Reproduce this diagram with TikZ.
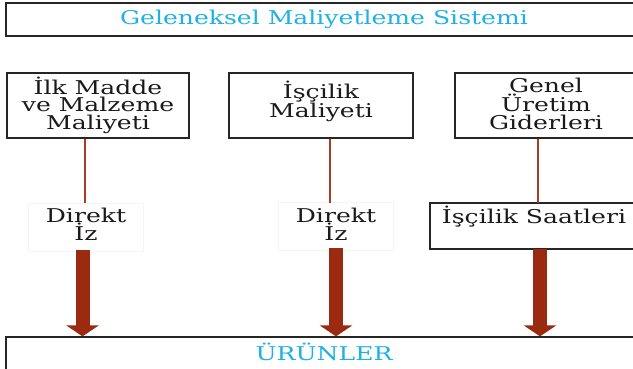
\documentclass[tikz,border=0pt]{standalone}
\usepackage{fontspec}
\setmainfont[FakeStretch=1.32]{DejaVu Serif}
\usetikzlibrary{arrows.meta}
\definecolor{cyantxt}{HTML}{1EB1E6}
\definecolor{arrowc}{HTML}{9A2B10}
\definecolor{linec}{HTML}{A83C24}
\definecolor{txtc}{HTML}{1A1A1A}
\tikzset{
  fnt/.style={font=\fontsize{19}{17.5}\selectfont},
  box/.style={draw=black!85, line width=1.2pt, inner sep=0pt, align=center, text=txtc, fnt},
  titlebox/.style={box, text=cyantxt},
  txt/.style={inner sep=0pt, align=center, text=txtc, fnt},
  faint/.style={draw=black!4, line width=0.6pt, inner sep=0pt},
  conn/.style={draw=linec, line width=1.4pt},
  fat/.style={draw=arrowc, line width=14pt, -{Triangle[width=32pt,length=11pt]}},
}
\begin{document}
\begin{tikzpicture}[x=1pt,y=-1pt]
\useasboundingbox (0,0) rectangle (633,369);
\clip (0,0) rectangle (633,369);
% top title
\node[titlebox, minimum width=636pt, minimum height=33pt] (title) at (324,19.5) {Geleneksel Maliyetleme Sistemi};
% cost boxes
\node[box, minimum width=182pt, minimum height=65pt] (b1) at (98,105.5) {};
\node[txt] (b1t) at (98,105) {İlk Madde\\ve Malzeme\\Maliyeti};
\node[box, minimum width=184pt, minimum height=65pt] (b2) at (321,105.5) {};
\node[txt, font=\fontsize{19}{18}\selectfont] (b2t) at (321,101) {İşçilik\\Maliyeti};
\node[box, minimum width=186pt, minimum height=65pt] (b3) at (548,105.5) {};
\node[txt] (b3t) at (546,104) {Genel\\Üretim\\Giderleri};
% middle
\node[faint, minimum width=115pt, minimum height=48pt] (d1) at (85.5,227) {};
\node[txt, font=\fontsize{19}{18}\selectfont] (d1t) at (86,224) {Direkt\\İz};
\node[faint, minimum width=115pt, minimum height=48pt] (d2) at (336,226) {};
\node[txt, font=\fontsize{19}{18}\selectfont] (d2t) at (336,224) {Direkt\\İz};
\node[box, minimum width=212pt, minimum height=46pt] (hs) at (536,226) {};
\node[txt] (hst) at (534,217) {İşçilik Saatleri};
% products
\node[titlebox, minimum width=636pt, minimum height=44pt] (urun) at (324,359) {};
\node[txt, text=cyantxt] (urunt) at (324,352) {ÜRÜNLER};
% connectors
\coordinate (c1) at (85,203);
\coordinate (c2) at (330,203);
\coordinate (c3) at (538,203);
\draw[conn] (b1.south -| c1) -- (c1);
\draw[conn] (b2.south -| c2) -- (c2);
\draw[conn] (b3.south -| c3) -- (c3);
% fat arrows
\coordinate (a1) at (82.5,250);
\coordinate (a2) at (336,248);
\coordinate (a3) at (540,249);
\draw[fat] (a1) -- (urun.north -| a1);
\draw[fat] (a2) -- (urun.north -| a2);
\draw[fat] (a3) -- (urun.north -| a3);
\end{tikzpicture}
\end{document}
